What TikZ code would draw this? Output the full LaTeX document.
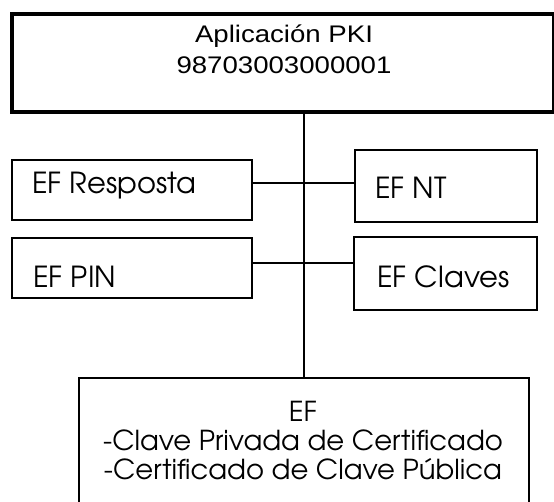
\documentclass[tikz,border=0pt]{standalone}
\usepackage{fontspec}
\newfontfamily\arialf[FakeStretch=1.15]{Liberation Sans}
\newfontfamily\gothf{TeX Gyre Adventor}
\begin{document}
\begin{tikzpicture}[x=1pt,y=-1pt,
  box/.style={draw=black, line width=1.8pt, rectangle, inner sep=0pt},
  topbox/.style={draw=black, line width=3.2pt, rectangle, inner sep=0pt},
  conn/.style={draw=black, line width=1.3pt},
  lbl/.style={inner sep=0pt, anchor=base west, font=\gothf\fontsize{29}{29}\selectfont},
  toptxt/.style={inner sep=0pt, align=center, font=\arialf\fontsize{24}{31}\selectfont},
  bottxt/.style={inner sep=0pt, align=center, font=\gothf\fontsize{27.5}{29}\selectfont}]
\useasboundingbox (0,0) rectangle (554,501);
% boxes
\node[topbox, minimum width=542pt, minimum height=98pt] (app) at (283,63) {};
\node[box, minimum width=240pt, minimum height=60pt] (resp) at (132,190) {};
\node[box, minimum width=240pt, minimum height=60pt] (pin) at (132,268) {};
\node[box, minimum width=182pt, minimum height=72pt] (nt) at (446,186) {};
\node[box, minimum width=183pt, minimum height=73pt] (claves) at (445.5,273.5) {};
\node[box, minimum width=450pt, minimum height=140pt] (ef) at (304,448) {};
% texts
\node[toptxt] (apptxt) at (284,49) {Aplicación PKI\\98703003000001};
\node[lbl] (resptxt) at (32,193) {EF Resposta};
\node[lbl] (pintxt) at (33,287) {EF PIN};
\node[lbl] (nttxt) at (375,198) {EF NT};
\node[lbl] (clavestxt) at (377,287) {EF Claves};
\node[bottxt, anchor=north] (eftxt) at (303,401) {EF\\-Clave Privada de Certificado\\-Certificado de Clave Pública};
% connectors
\coordinate (bus) at (304,0);
\coordinate (row1) at (0,183);
\coordinate (row2) at (0,263);
\draw[conn] (app.south -| bus) -- (ef.north -| bus);
\draw[conn] (resp.east |- row1) -- (nt.west |- row1);
\draw[conn] (pin.east |- row2) -- (claves.west |- row2);
\end{tikzpicture}
\end{document}
